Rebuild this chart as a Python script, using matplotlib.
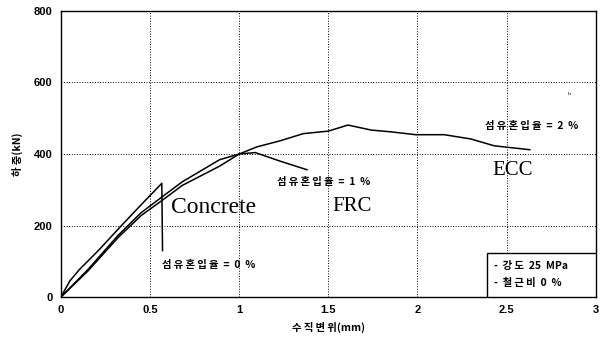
import matplotlib
matplotlib.use('Agg')
import matplotlib.pyplot as plt
from matplotlib.patches import Rectangle

plt.rcParams['font.family'] = ['Noto Sans CJK KR', 'DejaVu Sans']

# load-displacement curves
conc_x = [0, 0.05, 0.106, 0.21, 0.34, 0.45, 0.566, 0.57]
conc_y = [0, 45, 78, 130, 200, 258, 318, 130]

frc_x = [0, 0.15, 0.32, 0.45, 0.57, 0.68, 0.89, 1.0, 1.09, 1.23, 1.38]
frc_y = [0, 76, 172, 236, 281, 322, 384, 400, 404, 380, 356]

ecc_x = [0, 0.15, 0.32, 0.45, 0.57, 0.68, 0.89, 1.0, 1.10, 1.23, 1.36, 1.50,
         1.61, 1.74, 1.85, 1.99, 2.15, 2.30, 2.43, 2.52, 2.63]
ecc_y = [0, 72, 166, 228, 271, 312, 366, 400, 420, 437, 457, 464,
         481, 467, 462, 454, 454, 442, 423, 418, 412]

x_ticks = [0, 0.5, 1, 1.5, 2, 2.5, 3]
x_labels = ['0', '0.5', '1', '1.5', '2', '2.5', '3']
y_ticks = [0, 200, 400, 600, 800]

def spaced(s):
    # scanned Korean labels are loosely letter-spaced
    return '\u2009'.join(s)

fig = plt.figure(figsize=(6.03, 3.43), dpi=100)
ax = fig.add_axes([0.101, 0.134, 0.887, 0.834])

for xs, ys in [(conc_x, conc_y), (frc_x, frc_y), (ecc_x, ecc_y)]:
    ax.plot(xs, ys, color='black', lw=1.1)

ax.set_xlim(0, 3)
ax.set_ylim(0, 800)
ax.set_xticks(x_ticks)
ax.set_xticklabels(x_labels)
ax.set_yticks(y_ticks)
ax.tick_params(length=0, pad=6)
for lab in ax.get_xticklabels() + ax.get_yticklabels():
    lab.set_fontweight('bold')
    lab.set_fontfamily('Liberation Sans')
    lab.set_fontsize(8)
ax.grid(True, ls=':', color='black', lw=0.7)
for s in ax.spines.values():
    s.set_linewidth(1.0)

ax.set_xlabel(spaced('수직변위') + '(mm)', fontsize=7.5, fontweight='bold', labelpad=5)
ax.set_ylabel(spaced('하중') + '(kN)', fontsize=7.5, fontweight='bold', labelpad=8)

serif = 'Liberation Serif'
ax.text(0.62, 250, 'Concrete', family=serif, fontsize=17, va='center')
ax.text(1.52, 252, 'FRC', family=serif, fontsize=15, va='center')
ax.text(2.42, 355, 'ECC', family=serif, fontsize=15, va='center')

kr = dict(fontsize=7.5, fontweight='bold', va='center')
ax.text(0.566, 90, spaced('섬유혼입율') + '  =  0  %', **kr)
ax.text(1.21, 322, spaced('섬유혼입율') + '  =  1  %', **kr)
ax.text(2.38, 478, spaced('섬유혼입율') + '  =  2  %', **kr)
ax.text(2.85, 565, 'ʰ', fontsize=6, ha='center', va='center')

ax.add_patch(Rectangle((2.39, 0), 0.61, 123, facecolor='white',
                       edgecolor='black', lw=1.0, zorder=3))
ax.text(2.43, 86, '-  ' + spaced('강도') + '  25  MPa', zorder=4, **kr)
ax.text(2.43, 38, '-  ' + spaced('철근비') + '  0  %', zorder=4, **kr)

fig.savefig('out.png', dpi=100)
